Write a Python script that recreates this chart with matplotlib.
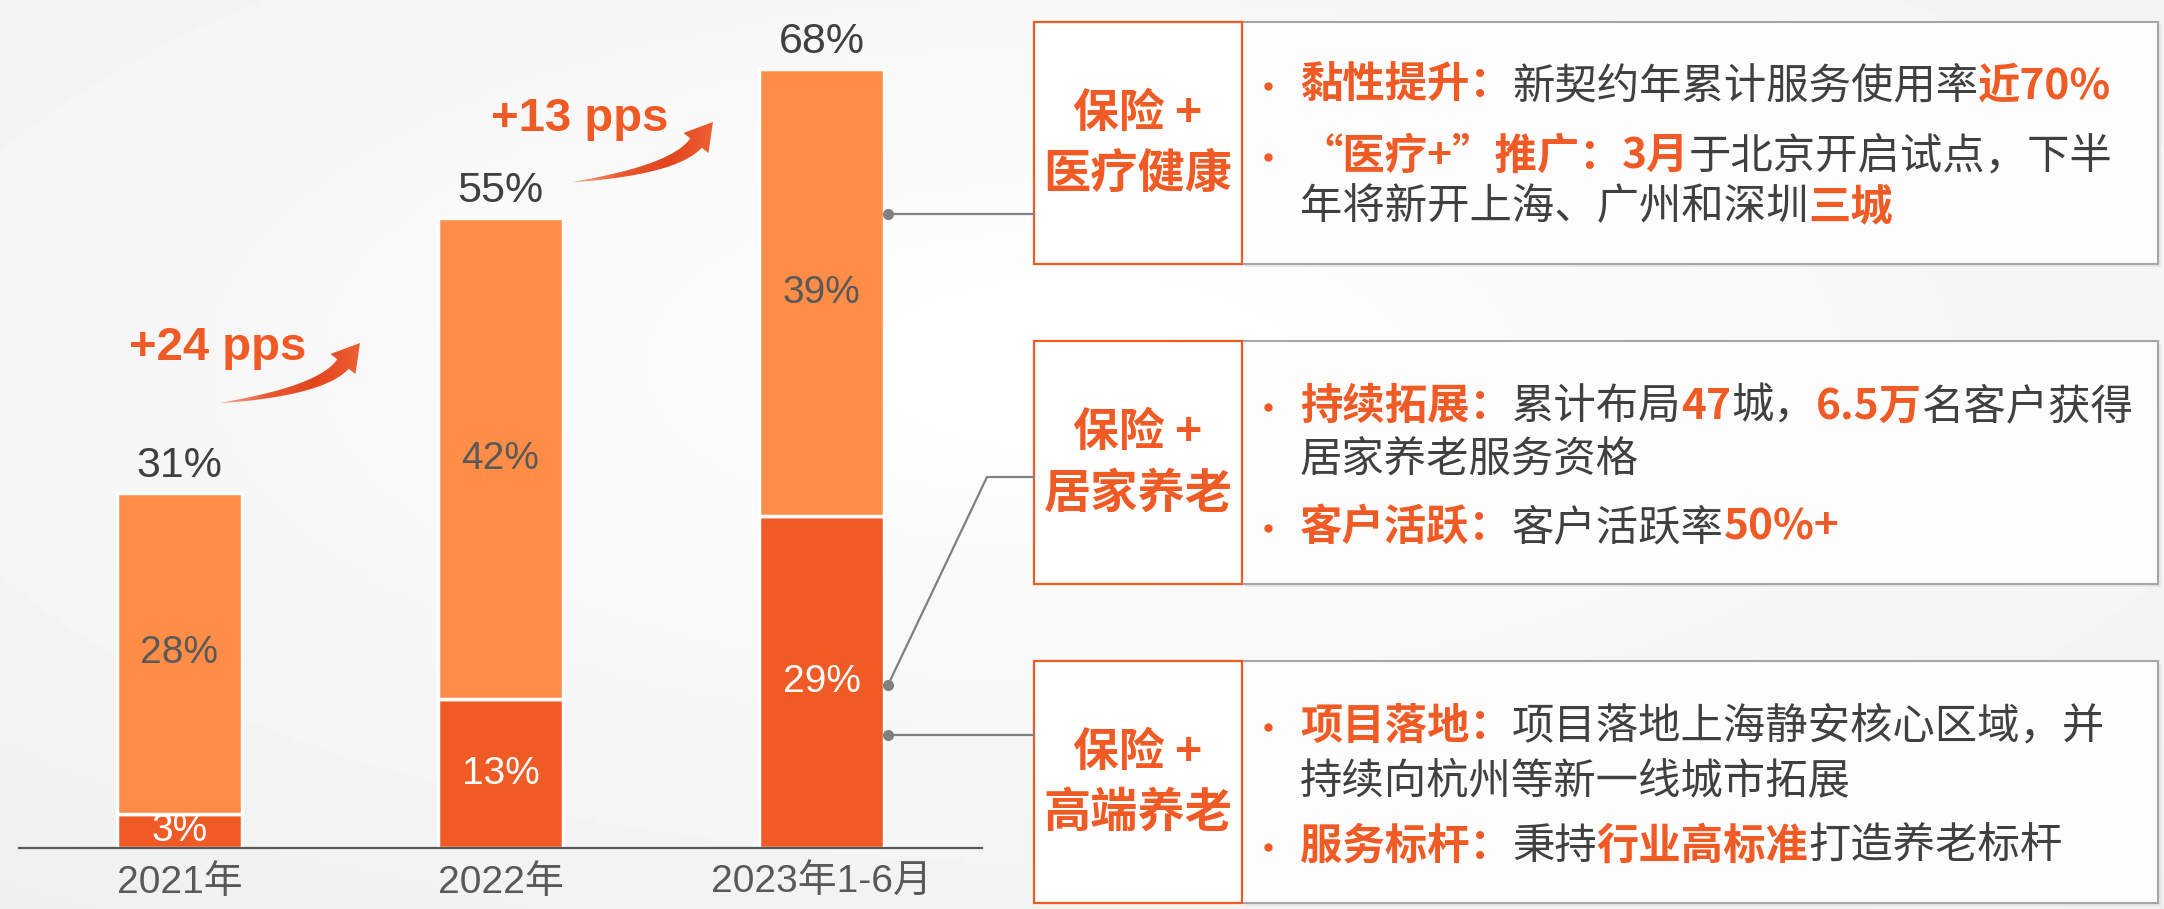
import numpy as np
import matplotlib
matplotlib.use("Agg")
import matplotlib.pyplot as plt
from matplotlib.patches import Rectangle, Polygon
from matplotlib.colors import LinearSegmentedColormap

# data
years = ["2021年", "2022年", "2023年1-6月"]
lower = [3, 13, 29]
upper = [28, 42, 39]
totals = [31, 55, 68]
growth = ["+24 pps", "+13 pps"]

box_titles = [("保险 +", "医疗健康"), ("保险 +", "居家养老"), ("保险 +", "高端养老")]
O, G = "#F05A24", "#404040"
box_lines = [
    [
        (True, [("黏性提升：", O, True), ("新契约年累计服务使用率", G, False), ("近70%", O, True)]),
        (True, [("“医疗+”推广：", O, True), ("3月", O, True), ("于北京开启试点，下半", G, False)]),
        (False, [("年将新开上海、广州和深圳", G, False), ("三城", O, True)]),
    ],
    [
        (True, [("持续拓展：", O, True), ("累计布局", G, False), ("47", O, True), ("城，", G, False),
                ("6.5万", O, True), ("名客户获得", G, False)]),
        (False, [("居家养老服务资格", G, False)]),
        (True, [("客户活跃：", O, True), ("客户活跃率", G, False), ("50%+", O, True)]),
    ],
    [
        (True, [("项目落地：", O, True), ("项目落地上海静安核心区域，并", G, False)]),
        (False, [("持续向杭州等新一线城市拓展", G, False)]),
        (True, [("服务标杆：", O, True), ("秉持", G, False), ("行业高标准", O, True), ("打造养老标杆", G, False)]),
    ],
]

CJK = ["Noto Sans CJK SC", "DejaVu Sans"]
LAT = ["Liberation Sans", "Noto Sans CJK SC"]
DARK = "#F05A24"
LIGHT = "#FF8C47"

W, H = 2164, 909
fig = plt.figure(figsize=(W / 100, H / 100), dpi=100)

# background
bg = fig.add_axes([0, 0, 1, 1])
yy, xx = np.mgrid[0:1:200j, 0:1:400j]
r = np.sqrt(((xx - 0.5) / 0.9) ** 2 + ((yy - 0.4) / 0.9) ** 2)
bg.imshow(1 - 0.07 * np.clip(r, 0, 1), cmap="gray", vmin=0, vmax=1, aspect="auto",
          extent=[0, 1, 0, 1])
bg.axis("off")

# bars
px_per_pct = 11.45
ax = fig.add_axes([19 / W, 61 / H, 963 / W, 848 / H])
ax.patch.set_alpha(0)
x = np.arange(len(years))
bw = 0.39
ax.bar(x, lower, bw, color=DARK, edgecolor="white", linewidth=2.5)
ax.bar(x, upper, bw, bottom=lower, color=LIGHT, edgecolor="white", linewidth=2.5)
for i in range(len(years)):
    ax.text(x[i], lower[i] / 2, f"{lower[i]}%", ha="center", va="center",
            fontsize=28, color="white", family=LAT)
    ax.text(x[i], lower[i] + upper[i] / 2, f"{upper[i]}%", ha="center", va="center",
            fontsize=28, color="#595959", family=LAT)
    ax.text(x[i], totals[i] + 1.4, f"{totals[i]}%", ha="center", va="baseline",
            fontsize=31, color="#404040", family=LAT)
ax.set_xlim(-0.5, 2.5)
ax.set_ylim(0, 848 / px_per_pct)
ax.set_xticks(x)
ax.set_xticklabels(years, fontsize=28, color="#595959", family=LAT)
ax.tick_params(axis="x", length=0, pad=12)
ax.set_yticks([])
for s in ["top", "right", "left"]:
    ax.spines[s].set_visible(False)
ax.spines["bottom"].set_color("#595959")
ax.spines["bottom"].set_linewidth(1.6)

# overlay in pixel coordinates
ov = fig.add_axes([0, 0, 1, 1])
ov.patch.set_alpha(0)
ov.axis("off")
renderer = fig.canvas.get_renderer()


def curved_arrow(start, tip):
    p0 = np.array(start, float)
    p2 = np.array([tip[0] - 17, tip[1] + 21], float)
    p1 = p0 + np.array([101, -12])
    t = np.linspace(0, 1, 80)[:, None]
    curve = (1 - t) ** 2 * p0 + 2 * (1 - t) * t * p1 + t ** 2 * p2
    d = 2 * (1 - t) * (p1 - p0) + 2 * t * (p2 - p1)
    d /= np.linalg.norm(d, axis=1)[:, None]
    n = np.column_stack([-d[:, 1], d[:, 0]])
    half = 7.5 * t ** 0.8
    left = curve + n * half
    right = curve - n * half
    hd = np.array(tip, float) - p2
    hd /= np.linalg.norm(hd)
    hn = np.array([-hd[1], hd[0]])
    head = [p2 + hn * 16, np.array(tip, float), p2 - hn * 16]
    pts = np.vstack([left, head, right[::-1]])
    poly = Polygon(pts, closed=True, facecolor="none", edgecolor="none")
    ov.add_patch(poly)
    cmap = LinearSegmentedColormap.from_list("arr", ["#F9B090", "#EA5A30", "#E2441C", "#EE6235"])
    grad = np.linspace(0, 1, 256)[None, :]
    im = ov.imshow(grad, cmap=cmap, aspect="auto",
                   extent=[start[0] - 2, tip[0] + 2, start[1] + 25, tip[1] - 25])
    im.set_clip_path(poly)


growth_pos = [(129, 360), (491, 131)]
arrow_pos = [((220, 403), (360, 343)), ((573, 182), (713, 122))]
for label, (tx, ty), (a0, a1) in zip(growth, growth_pos, arrow_pos):
    ov.text(tx, ty, label, fontsize=34, fontweight="bold", color=O, family=LAT,
            ha="left", va="baseline")
    curved_arrow(a0, a1)

# boxes
box_tops = [22, 341, 661]
box_bots = [264, 584, 903]
line_ys = [[86, 157, 207], [407, 461, 528], [727, 781, 847]]
bx0, bx1, bx2 = 1034, 1242, 2158
for k in range(3):
    t0, t1 = box_tops[k], box_bots[k]
    ov.add_patch(Rectangle((bx1 + 3, t0 + 3), bx2 - bx1, t1 - t0, facecolor="#DDDDDD",
                           edgecolor="none", alpha=0.6))
    ov.add_patch(Rectangle((bx1, t0), bx2 - bx1, t1 - t0, facecolor="#FDFDFD",
                           edgecolor="#A6A6A6", linewidth=1.5))
    ov.add_patch(Rectangle((bx0, t0), bx1 - bx0, t1 - t0, facecolor="white",
                           edgecolor=O, linewidth=1.6))
    cy = (t0 + t1) / 2
    ov.text((bx0 + bx1) / 2, cy - 29, box_titles[k][0], fontsize=33, fontweight="bold",
            color=O, family=CJK, ha="center", va="center")
    ov.text((bx0 + bx1) / 2, cy + 31, box_titles[k][1], fontsize=34, fontweight="bold",
            color=O, family=CJK, ha="center", va="center")
    for (bullet, runs), ly in zip(box_lines[k], line_ys[k]):
        if bullet:
            ov.plot(1268, ly, "o", color=O, markersize=5)
        xcur = 1300
        for s, col, bold in runs:
            t = ov.text(xcur, ly, s, fontsize=30.5, color=col, family=CJK,
                        fontweight="bold" if bold else "normal", ha="left", va="center")
            xcur += t.get_window_extent(renderer).width

# leader lines
LC = "#808080"
ov.plot([888, bx0], [214, 214], color=LC, lw=1.6)
ov.plot([888, 987, bx0], [685, 477, 477], color=LC, lw=1.6)
ov.plot([888, bx0], [735, 735], color=LC, lw=1.6)
ov.plot([888, 888, 888], [214, 685, 735], "o", color=LC, markersize=7)

ov.set_xlim(0, W)
ov.set_ylim(H, 0)

fig.savefig("out.png", dpi=100)
